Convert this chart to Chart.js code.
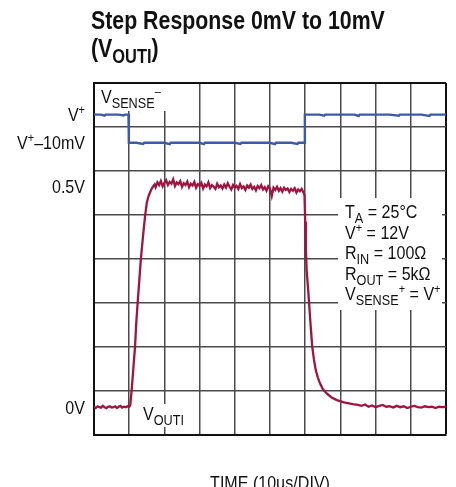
<!DOCTYPE html>
<html>
<head>
<meta charset="utf-8">
<script src="https://cdn.jsdelivr.net/npm/chart.js@4.4.0/dist/chart.umd.min.js"></script>
<style>
  html, body { margin: 0; padding: 0; background: #fff; }
  #wrap { width: 456px; height: 487px; }
</style>
</head>
<body>
<div id="wrap"><canvas id="scope" width="456" height="487"></canvas></div>
<script>
// no condensed face is installed, so Liberation Sans gets squeezed sideways
const FONT = '"Liberation Sans", Arial, sans-serif';
const SQUEEZE = 0.845;
const SQUEEZE_BOLD = 0.82;

// time axis, 10 divisions of 10us
const timeMin = 0;
const timeMax = 100;
const timeStep = 10;
const vertDivisions = 8;

// V_OUTI trace, volts
const outTime = [
  0, 0.5, 1, 1.5, 2, 2.5, 3, 3.5, 4, 4.5, 5, 5.5, 6, 6.5, 7, 7.5, 8, 8.5, 9, 9.5, 10,
  10.3, 10.7, 11.2, 11.65, 12, 12.4, 12.85, 13.3, 13.9, 14.5, 15, 15.5, 15.9, 16.4, 16.8, 17.2,
  17.5, 18, 18.5, 19, 19.5, 20, 20.5, 21, 21.5, 22, 22.5, 23, 23.5, 24, 24.5, 25, 25.5, 26, 26.5,
  27, 27.5, 28, 28.5, 29, 29.5, 30, 30.5, 31, 31.5, 32, 32.5, 33, 33.5, 34, 34.5, 35, 35.5, 36,
  36.5, 37, 37.5, 38, 38.5, 39, 39.5, 40, 40.5, 41, 41.5, 42, 42.5, 43, 43.5, 44, 44.5, 45, 45.5,
  46, 46.5, 47, 47.5, 48, 48.5, 49, 49.5, 50, 50.5, 51, 51.5, 52, 52.5, 53, 53.5, 54, 54.5, 55,
  55.5, 56, 56.5, 57, 57.5, 58, 58.5, 59, 59.5,
  59.8, 60, 60.2, 60.4, 60.8, 61.1, 61.5, 62, 62.5, 63, 63.6, 64.2, 65, 66.1, 67.5, 69, 71, 73.5,
  75, 76, 77, 78, 79, 80, 81, 82, 83, 84, 85, 86, 87, 88, 89, 90, 91, 92, 93, 94, 95, 96, 97, 98, 99, 100
];
const outVolts = [
  0.001, -0.002, 0.002, 0.000, -0.001, 0.003, 0.000, -0.002, 0.001, 0.002, -0.001, 0.000, 0.002, -0.002, 0.001, 0.003, -0.001, 0.001, 0.000, 0.002, 0.001,
  0.004, 0.038, 0.090, 0.136, 0.190, 0.236, 0.285, 0.334, 0.385, 0.432, 0.463, 0.478, 0.486, 0.495, 0.500, 0.504,
  0.498, 0.509, 0.503, 0.512, 0.500, 0.508, 0.514, 0.503, 0.510, 0.506, 0.516, 0.501, 0.509, 0.505, 0.512, 0.499, 0.507, 0.503, 0.511,
  0.498, 0.506, 0.502, 0.510, 0.497, 0.505, 0.501, 0.508, 0.495, 0.504, 0.500, 0.509, 0.496, 0.503, 0.499, 0.494, 0.506, 0.498, 0.502,
  0.495, 0.504, 0.497, 0.507, 0.499, 0.493, 0.503, 0.497, 0.501, 0.494, 0.505, 0.496, 0.500, 0.492, 0.502, 0.497, 0.504, 0.494, 0.499,
  0.491, 0.501, 0.496, 0.503, 0.493, 0.498, 0.490, 0.500, 0.495, 0.478, 0.497, 0.492, 0.499, 0.490, 0.496, 0.488, 0.497, 0.492, 0.495,
  0.487, 0.494, 0.490, 0.496, 0.486, 0.493, 0.489, 0.494, 0.486,
  0.480, 0.420, 0.360, 0.311, 0.270, 0.236, 0.190, 0.137, 0.107, 0.084, 0.067, 0.054, 0.041, 0.031, 0.022, 0.016, 0.011, 0.007,
  0.005, 0.003, 0.006, 0.001, 0.004, 0.000, 0.003, 0.005, 0.001, 0.002, -0.001, 0.003, 0.000, 0.002, -0.002, 0.001, 0.003, 0.000, -0.001, 0.002, 0.000, 0.001, -0.002, 0.001, 0.000, 0.001
];

// V_SENSE- trace, mV relative to V+
const senseTime = [
  0, 2, 3, 3.3, 5, 7, 8.4, 8.7, 9.8,
  9.9, 12, 14, 14.3, 16, 18, 20, 21.5, 21.8, 24, 26, 28, 30, 31.2, 31.5, 34, 36, 38, 40, 41.6, 41.9,
  44, 46, 48, 50, 51.4, 51.7, 54, 56, 57.8, 58.1, 59.8,
  59.9, 62, 64, 65.4, 65.7, 68, 70, 72, 74, 75.2, 75.5, 78, 80, 82, 84, 86.6, 86.9, 89, 91, 93, 95.3, 95.6, 98, 100
];
const senseMv = [
  0, 0, -0.4, 0, 0, 0, -0.3, 0, 0,
  -10, -10, -10.4, -10, -10, -10, -10, -10.5, -10, -10, -10, -10, -10, -10.5, -10, -10, -10, -10, -10, -10.4, -10,
  -10, -10, -10, -10, -10.5, -10, -10, -10, -10.4, -10, -10,
  0, 0, 0, -0.4, 0, 0, 0, 0, 0, -0.5, 0, 0, 0, 0, 0, -0.4, 0, 0, 0, 0, -0.5, 0, 0, 0
];

// screen ranges of the two channels
const outRange = [-0.063, 0.734];
const senseRange = [-113.6, 11.2];

// level labels on the left
const senseLevels = [0, -10];
const senseLevelText = [
  [['V'], ['+', 'sup']],
  [['V'], ['+', 'sup'], ['\u201310mV']]
];
const outLevels = [0.5, 0];
const outLevelText = [
  [['0.5V']],
  [['0V']]
];

const conditionLines = [
  [['T'], ['A', 'sub'], [' = 25\u00B0C']],
  [['V'], ['+', 'sup'], [' = 12V']],
  [['R'], ['IN', 'sub'], [' = 100\u03A9']],
  [['R'], ['OUT', 'sub'], [' = 5k\u03A9']],
  [['V'], ['SENSE', 'sub'], ['+', 'sup'], [' = V'], ['+', 'sup']]
];

function fontFor(kind, bold) {
  if (bold) return 'bold ' + (kind ? '20px ' : '26px ') + FONT;
  if (kind === 'sub') return '15px ' + FONT;
  if (kind === 'sup') return '13px ' + FONT;
  return '19px ' + FONT;
}

function drawRich(ctx, parts, x, y, align, bold) {
  const sq = bold ? SQUEEZE_BOLD : SQUEEZE;
  let width = 0;
  parts.forEach(p => { ctx.font = fontFor(p[1], bold); width += ctx.measureText(p[0]).width * sq; });
  let cx = x;
  if (align === 'right') cx = x - width;
  if (align === 'center') cx = x - width / 2;
  ctx.textAlign = 'left';
  parts.forEach(p => {
    ctx.font = fontFor(p[1], bold);
    let dy = 0;
    if (p[1] === 'sub') dy = bold ? 6 : 5;
    if (p[1] === 'sup') dy = -7;
    ctx.save();
    ctx.translate(cx, y + dy);
    ctx.scale(sq, 1);
    ctx.fillText(p[0], 0, 0);
    ctx.restore();
    cx += ctx.measureText(p[0]).width * sq;
  });
}

const scopeText = {
  id: 'scopeText',
  beforeDatasetsDraw(chart) {
    const ctx = chart.ctx;
    ctx.save();
    // white patches behind the in-plot labels
    ctx.fillStyle = '#fff';
    ctx.fillRect(96, 84, 72, 27);
    ctx.fillRect(140, 404, 48, 23);
    ctx.fillRect(338, 198, 104, 112);

    ctx.fillStyle = '#111';
    ctx.textBaseline = 'alphabetic';
    drawRich(ctx, [['V'], ['SENSE', 'sub'], ['\u2013', 'sup']], 101, 103, 'left');
    drawRich(ctx, [['V'], ['OUTI', 'sub']], 143, 420, 'left');
    conditionLines.forEach((line, i) => {
      drawRich(ctx, line, 345, 218 + i * 20.6, 'left');
    });
    ctx.restore();
  },
  afterDraw(chart) {
    const ctx = chart.ctx;
    const area = chart.chartArea;
    ctx.save();
    ctx.fillStyle = '#111';
    ctx.textBaseline = 'alphabetic';

    // title
    drawRich(ctx, [['Step Response 0mV to 10mV']], 91, 29, 'left', true);
    drawRich(ctx, [['(V'], ['OUTI', 'sub'], [')']], 91, 57, 'left', true);

    // level labels
    const ySense = chart.scales.ySense;
    const yOut = chart.scales.yOut;
    senseLevels.forEach((v, i) => {
      drawRich(ctx, senseLevelText[i], 85, ySense.getPixelForValue(v) + 6.5, 'right');
    });
    outLevels.forEach((v, i) => {
      drawRich(ctx, outLevelText[i], 85, yOut.getPixelForValue(v) + 6.5, 'right');
    });

    // time axis caption
    drawRich(ctx, [['TIME (10\u00B5s/DIV)']], (area.left + area.right) / 2, 489, 'center');
    ctx.restore();
  }
};

const edgeColor = '#111';
const gridColor = '#4a4a4a';

new Chart(document.getElementById('scope').getContext('2d'), {
  type: 'line',
  data: {
    datasets: [
      {
        label: 'VSENSE-',
        data: senseTime.map((t, i) => ({ x: t, y: senseMv[i] })),
        xAxisID: 'x',
        yAxisID: 'ySense',
        borderColor: '#3d5aa8',
        borderWidth: 2.4,
        pointRadius: 0,
        tension: 0
      },
      {
        label: 'VOUTI',
        data: outTime.map((t, i) => ({ x: t, y: outVolts[i] })),
        xAxisID: 'x',
        yAxisID: 'yOut',
        borderColor: '#a01440',
        borderWidth: 2.3,
        pointRadius: 0,
        tension: 0
      }
    ]
  },
  options: {
    responsive: false,
    animation: false,
    devicePixelRatio: 1,
    layout: { padding: { left: 94, top: 83, right: 10, bottom: 52 } },
    plugins: {
      legend: { display: false },
      tooltip: { enabled: false },
      title: { display: false }
    },
    scales: {
      x: {
        type: 'linear',
        min: timeMin,
        max: timeMax,
        ticks: { stepSize: timeStep, display: false },
        grid: {
          drawTicks: false,
          color: c => (c.tick && c.tick.value === timeMax) ? edgeColor : gridColor,
          lineWidth: c => (c.tick && c.tick.value === timeMax) ? 2 : 1.5
        },
        border: { display: true, color: edgeColor, width: 2 }
      },
      yGrid: {
        type: 'linear',
        position: 'left',
        min: 0,
        max: vertDivisions,
        ticks: { stepSize: 1, display: false },
        grid: {
          drawTicks: false,
          color: c => (c.tick && c.tick.value === vertDivisions) ? edgeColor : gridColor,
          lineWidth: c => (c.tick && c.tick.value === vertDivisions) ? 2 : 1.5
        },
        border: { display: true, color: edgeColor, width: 2 }
      },
      yOut: { type: 'linear', display: false, min: outRange[0], max: outRange[1] },
      ySense: { type: 'linear', display: false, min: senseRange[0], max: senseRange[1] }
    }
  },
  plugins: [scopeText]
});
</script>
</body>
</html>
